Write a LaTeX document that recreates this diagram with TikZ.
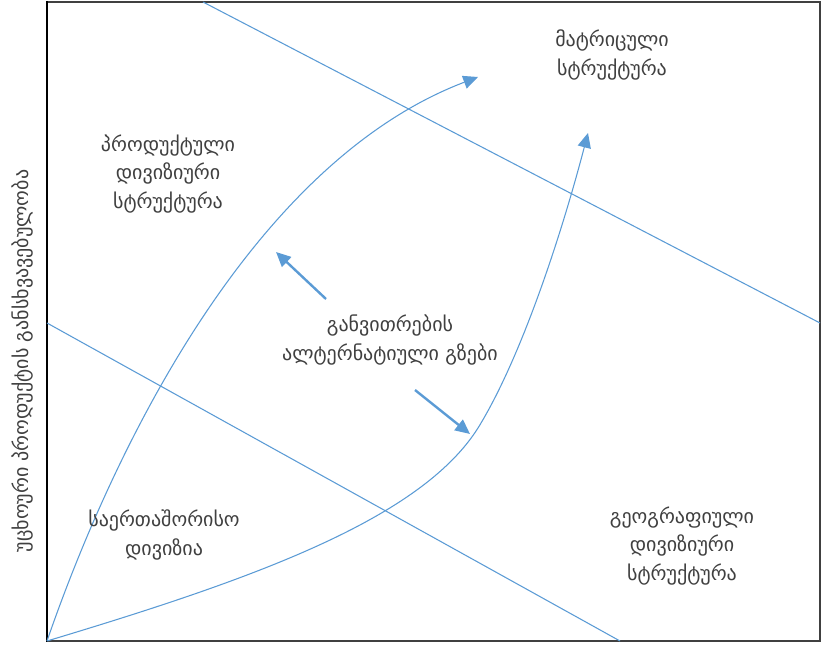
\documentclass[tikz,border=0pt]{standalone}
\usepackage{fontspec}
\setmainfont{DejaVu Sans}
\usepackage{tikz}
\usetikzlibrary{arrows.meta, positioning}
\definecolor{pathblue}{HTML}{5B9BD5}
\definecolor{labelgray}{HTML}{404040}

\begin{document}
\begin{tikzpicture}[x=0.75pt,y=-0.75pt,
    lbl/.style={text=labelgray,align=center,font=\fontsize{15}{21.5}\selectfont},
    zoneline/.style={pathblue,line width=0.8pt},
    growpath/.style={pathblue,line width=0.8pt,-{Triangle[length=11pt,width=10pt]}},
    hintarrow/.style={pathblue,line width=1.8pt,-{Triangle[length=11pt,width=10pt]}}]
    \useasboundingbox (0,0) rectangle (822,645);
    % frame
    \draw[labelgray,line width=1pt] (47,2) -- (820,2) -- (820,641) -- (47,641);
    \draw[black,line width=1.6pt] (47,1) -- (47,641.5);
    % corners of the zones
    \coordinate (origin) at (47,641);
    \coordinate (topcut) at (203,2);
    \coordinate (rightcut) at (820,323);
    \coordinate (leftcut) at (47,323);
    \coordinate (bottomcut) at (620,641);
    \coordinate (tipA) at (478,77);
    \coordinate (bendB) at (478,428);
    \coordinate (tipB) at (588,133);
    \draw[zoneline] (topcut) -- (rightcut);
    \draw[zoneline] (leftcut) -- (bottomcut);
    % the two paths
    \draw[growpath] (origin) .. controls (120,430) and (260,160) .. (tipA);
    \draw[growpath] (origin) .. controls (250,580) and (420,520) .. (bendB)
      .. controls (520,360) and (560,240) .. (tipB);
    % labels
    \node[lbl] (matrix) at (612,55) {მატრიცული\\სტრუქტურა};
    \node[lbl] (product) at (168,174) {პროდუქტული\\დივიზიური\\სტრუქტურა};
    \node[lbl] (paths) at (390,340) {განვითრების\\ალტერნატიული გზები};
    \node[lbl] (intl) at (164,535) {საერთაშორისო\\დივიზია};
    \node[lbl] (geo) at (682,546) {გეოგრაფიული\\დივიზიური\\სტრუქტურა};
    \node[lbl,rotate=90] (ylabel) at (22,361) {უცხოური პროდუქტის განსხვავებულობა};
    % hints
    \coordinate (upstart) at (326,299);
    \coordinate (upend) at (276,252);
    \coordinate (downstart) at (415,390);
    \coordinate (downend) at (470,434);
    \draw[hintarrow] (upstart) -- (upend);
    \draw[hintarrow] (downstart) -- (downend);
\end{tikzpicture}
\end{document}
